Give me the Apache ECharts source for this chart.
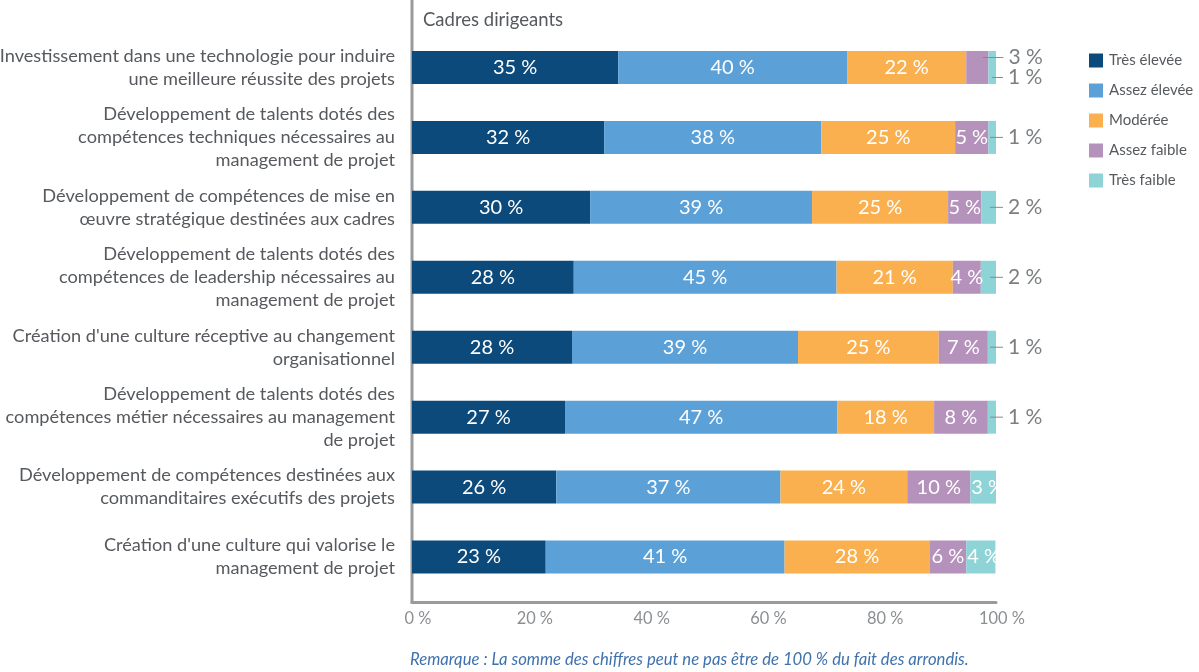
<!DOCTYPE html>
<html>
<head>
<meta charset="utf-8">
<script src="https://cdn.jsdelivr.net/npm/echarts@6/dist/echarts.min.js"></script>
<style>
html,body{margin:0;padding:0;background:#fff;}
#chart{width:1199px;height:672px;}
</style>
</head>
<body>
<div id="chart"></div>
<script>
// ---------- data ----------
const categories = [
  "Investissement dans une technologie pour induire\nune meilleure réussite des projets",
  "Développement de talents dotés des\ncompétences techniques nécessaires au\nmanagement de projet",
  "Développement de compétences de mise en\nœuvre stratégique destinées aux cadres",
  "Développement de talents dotés des\ncompétences de leadership nécessaires au\nmanagement de projet",
  "Création d'une culture réceptive au changement\norganisationnel",
  "Développement de talents dotés des\ncompétences métier nécessaires au management\nde projet",
  "Développement de compétences destinées aux\ncommanditaires exécutifs des projets",
  "Création d'une culture qui valorise le\nmanagement de projet"
];
const seriesNames = ["Très élevée", "Assez élevée", "Modérée", "Assez faible", "Très faible"];
// bar lengths (as drawn)
const tresElevee  = [35.3, 32.9, 30.5, 27.7, 27.4, 26.2, 24.7, 22.9];
const assezElevee = [39.2, 37.2, 38.0, 45.0, 38.7, 46.6, 38.4, 40.9];
const moderee     = [20.4, 22.9, 23.3, 19.9, 24.1, 16.6, 21.7, 24.8];
const assezFaible = [3.8, 5.7, 5.7, 4.8, 8.4, 9.2, 10.8, 6.3];
const tresFaible  = [1.4, 1.4, 2.6, 2.6, 1.4, 1.4, 4.5, 5.0];
// printed (rounded) percentages
const lblTresElevee  = [35, 32, 30, 28, 28, 27, 26, 23];
const lblAssezElevee = [40, 38, 39, 45, 39, 47, 37, 41];
const lblModeree     = [22, 25, 25, 21, 25, 18, 24, 28];
const lblAssezFaible = [3, 5, 5, 4, 7, 8, 10, 6];
const lblTresFaible  = [1, 1, 2, 2, 1, 1, 3, 4];
const xTicks = [0, 20, 40, 60, 80, 100];

// ---------- style ----------
const FONT = "Lato";
const colors = ["#0c4a7c", "#5ba1d7", "#fbb04f", "#b592bb", "#8ed3d6"];
const greyText = "#56595d";
const outGrey = "#7c7f82";

const outRich = {
  t: { fontSize: 21, color: outGrey, fontFamily: FONT, padding: [0, 0, 0, 5] },
  l1: { width: 21, height: 1, backgroundColor: "#8a8a8a" },
  l2: { width: 11, height: 1, backgroundColor: "#8a8a8a" },
  l3: { width: 13, height: 1, backgroundColor: "#8a8a8a" }
};

function insideData(vals, lbls) {
  return vals.map((v, i) => ({ value: v, label: { formatter: lbls[i] + " %" } }));
}
function faibleData() {
  return assezFaible.map((v, i) => {
    if (i === 0) {
      return { value: v, label: { position: "right", distance: -6, offset: [0, -10],
        formatter: "{l1|}{t|" + lblAssezFaible[i] + " %}", rich: outRich } };
    }
    return { value: v, label: { formatter: lblAssezFaible[i] + " %" } };
  });
}
function tresFaibleData() {
  return tresFaible.map((v, i) => {
    if (i === 0) {
      return { value: v, label: { position: "right", distance: -4, offset: [0, 10],
        formatter: "{l2|}{t|" + lblTresFaible[i] + " %}", rich: outRich } };
    }
    if (i < 6) {
      return { value: v, label: { position: "right", distance: -6,
        formatter: "{l3|}{t|" + lblTresFaible[i] + " %}", rich: outRich } };
    }
    return { value: v, label: { position: "insideLeft", distance: 1, formatter: lblTresFaible[i] + " %" } };
  });
}

const dataSets = [
  insideData(tresElevee, lblTresElevee),
  insideData(assezElevee, lblAssezElevee),
  insideData(moderee, lblModeree),
  faibleData(),
  tresFaibleData()
];

const chart = echarts.init(document.getElementById("chart"), null, { renderer: "canvas" });

const option = {
  animation: false,
  color: colors,
  textStyle: { fontFamily: FONT },
  title: [
    { text: "Cadres dirigeants", left: 418, top: 6,
      textStyle: { fontSize: 18.5, fontWeight: "normal", color: greyText, fontFamily: FONT } },
    { text: "Remarque : La somme des chiffres peut ne pas être de 100 % du fait des arrondis.",
      left: 405, top: 646,
      textStyle: { fontSize: 16.7, fontWeight: "normal", fontStyle: "italic", color: "#3f72ad", fontFamily: FONT } }
  ],
  legend: {
    orient: "vertical", left: 1084, top: 48,
    itemWidth: 14, itemHeight: 14, itemGap: 15,
    icon: "rect",
    textStyle: { fontSize: 15, color: greyText, fontFamily: FONT, padding: [0, 0, 0, 1] },
    data: seriesNames
  },
  grid: { left: 412, right: 203, top: 32.5, bottom: 80, containLabel: false, outerBoundsMode: "none" },
  xAxis: {
    type: "value", min: xTicks[0], max: xTicks[xTicks.length - 1], interval: 20,
    offset: 10,
    axisLine: { show: true, lineStyle: { color: "#999a9c", width: 3 } },
    axisTick: { show: false },
    splitLine: { show: false },
    axisLabel: { formatter: "{value} %", fontSize: 16.4, color: "#8c8f92", margin: 9,
      padding: [0, 0, 0, 12], fontFamily: FONT }
  },
  yAxis: {
    type: "category", inverse: true, data: categories,
    axisLine: { show: false },
    axisTick: { show: false },
    axisLabel: { fontSize: 18.2, lineHeight: 23, color: greyText, margin: 17, align: "right", fontFamily: FONT }
  },
  series: seriesNames.map((name, k) => ({
    name: name, type: "bar", stack: "total", barWidth: 33,
    data: dataSets[k],
    label: { show: true, position: "inside", color: "#ffffff", fontSize: 20, fontFamily: FONT },
    emphasis: { disabled: true }
  }))
};
chart.setOption(option);

// left axis line, placed at the value-axis zero
const x0 = chart.convertToPixel({ xAxisIndex: 0 }, xTicks[0]);
const yBottom = chart.getHeight() - 80 + 10;
chart.setOption({
  graphic: [{
    type: "line", silent: true,
    shape: { x1: x0, y1: 0, x2: x0, y2: yBottom + 1.5 },
    style: { stroke: "#999a9c", lineWidth: 3 }
  }]
});
</script>
</body>
</html>
